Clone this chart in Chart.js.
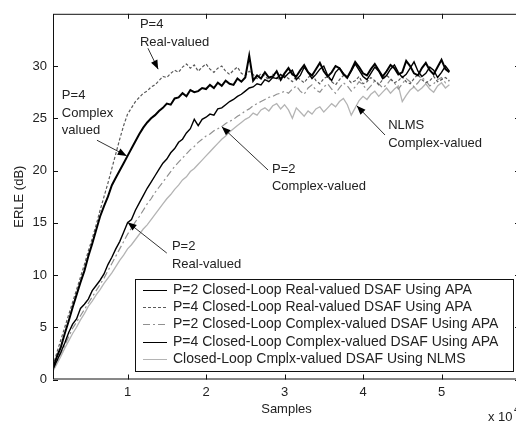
<!DOCTYPE html>
<html>
<head>
<meta charset="utf-8">
<script src="https://cdn.jsdelivr.net/npm/chart.js@4.4.0/dist/chart.umd.min.js"></script>
<style>
  html, body { margin: 0; padding: 0; background: #fff; overflow: hidden; }
  #wrap { width: 524px; height: 421px; }
</style>
</head>
<body>
<div id="wrap"><canvas id="erleChart"></canvas></div>
<script>
// x axis is in units of 10^4 samples, one point every 500 samples
const samples = [];
for (let i = 1; i <= 102; i++) samples.push(i * 5 / 100);

const xTicks = [1, 2, 3, 4, 5];
const yTicks = [0, 5, 10, 15, 20, 25, 30];

const seriesNames = [
  'P=2 Closed-Loop Real-valued DSAF Using APA',
  'P=4 Closed-Loop Real-valued DSAF Using APA',
  'P=2 Closed-Loop Complex-valued DSAF Using APA',
  'P=4 Closed-Loop Complex-valued DSAF Using APA',
  'Closed-Loop Cmplx-valued DSAF Using NLMS'
];

// ERLE in dB
const p2Real = [
  1.0, 1.8, 2.6, 3.5, 4.5, 5.3, 5.8, 6.8, 7.2, 7.7,
  8.5, 9.0, 9.5, 10.1, 11.0, 11.7, 12.5, 13.2, 14.1, 15.0,
  15.3, 16.2, 16.9, 17.6, 18.3, 18.9, 19.5, 20.1, 20.7, 21.1,
  21.7, 22.1, 22.7, 23.0, 23.6, 24.0, 24.9, 24.3, 24.9, 25.1,
  25.4, 25.3, 25.9, 26.0, 26.3, 26.6, 26.8, 27.1, 27.3, 27.6,
  27.9, 28.0, 28.3, 28.2, 28.7, 28.5, 28.9, 28.8, 29.2, 28.9,
  29.3, 29.6, 28.7, 29.1, 29.9, 29.4, 28.8, 29.2, 29.7, 30.0,
  29.1, 28.6, 29.4, 29.8, 29.3, 28.9, 29.5, 30.2, 29.6, 29.0,
  28.7, 29.3, 29.9, 29.5, 28.8, 29.1, 29.7, 30.1, 29.4, 28.9,
  29.2, 29.8, 30.4, 29.5, 29.0, 29.3, 29.9, 29.6, 28.9, 29.4,
  30.0, 29.5
];
const p4Real = [
  1.3, 2.6, 3.8, 5.0, 6.2, 7.4, 8.6, 9.8, 11.0, 12.3,
  13.5, 14.8, 16.2, 17.5, 18.8, 20.2, 21.6, 23.0, 24.3, 25.4,
  26.0, 26.6, 27.0, 27.4, 27.6, 28.0, 28.2, 28.6, 29.0, 28.9,
  29.3, 29.6, 29.4, 29.9, 30.2, 29.8, 30.1, 29.5, 29.9, 30.2,
  29.7, 29.4, 29.8, 30.0, 29.5, 29.2, 29.6, 29.9, 29.3, 29.1,
  29.5, 29.2, 28.8, 29.3, 29.0, 28.7, 29.2, 28.9, 28.6, 29.1,
  28.8, 28.5, 29.0, 28.7, 28.4, 28.9, 29.2, 28.6, 28.3, 28.8,
  29.0, 28.5, 28.2, 28.7, 29.1, 28.8, 28.4, 28.6, 29.0, 28.3,
  28.5, 28.9, 28.6, 28.2, 28.7, 29.1, 28.8, 28.4, 28.6, 29.0,
  28.5, 28.3, 28.8, 29.2, 28.7, 28.4, 28.6, 29.0, 28.5, 28.7,
  28.9, 28.6
];
const p2Cplx = [
  0.9, 1.7, 2.5, 3.3, 4.1, 4.9, 5.5, 6.1, 6.7, 7.3,
  7.9, 8.5, 9.1, 9.7, 10.4, 11.1, 11.8, 12.5, 13.2, 13.9,
  14.5, 15.1, 15.6, 16.2, 16.8, 17.3, 17.9, 18.4, 18.9, 19.4,
  19.9, 20.4, 20.8, 21.2, 21.6, 22.0, 22.3, 22.7, 23.0, 23.3,
  23.5, 23.8, 24.0, 24.2, 24.5, 24.7, 24.9, 25.2, 25.4, 25.7,
  25.9, 26.2, 26.4, 26.6, 26.8, 27.0, 27.1, 27.3, 27.4, 27.6,
  27.4, 27.8, 28.1, 27.6, 27.3, 27.9, 28.2, 27.7, 27.5, 28.0,
  28.3, 27.8, 27.4, 27.9, 28.4, 28.1, 27.6, 28.0, 28.5, 28.2,
  27.7, 28.1, 28.6, 28.3, 27.9, 28.2, 28.7, 28.4, 27.8, 28.3,
  28.8, 28.5, 28.0, 28.4, 28.9, 28.6, 28.1, 28.3, 28.7, 28.9,
  28.4, 28.6
];
const p4Cplx = [
  1.1, 2.2, 3.1, 4.4, 5.6, 6.9, 8.1, 9.3, 10.4, 11.8,
  13.0, 14.3, 15.6, 16.6, 17.5, 18.6, 19.3, 20.0, 20.7, 21.4,
  22.1, 22.8, 23.5, 24.1, 24.6, 25.0, 25.3, 25.7, 26.0, 26.4,
  26.3, 26.9, 27.0, 27.4, 27.1, 27.7, 27.5, 27.6, 27.9, 27.8,
  28.2, 27.9, 28.4, 28.1, 28.6, 28.3, 28.2, 28.8, 28.5, 28.9,
  31.0, 28.6, 29.1, 28.8, 29.4, 28.9, 29.0, 29.5, 28.7, 29.3,
  29.8, 29.2, 29.0, 29.6, 30.1, 29.4, 29.1, 29.7, 30.3, 29.5,
  29.0, 29.4, 30.0, 29.8, 29.2, 28.9, 29.6, 30.4, 29.9, 29.3,
  29.1, 29.7, 30.2, 29.6, 29.0, 29.5, 30.1, 29.8, 29.2, 29.4,
  30.5, 30.0, 29.3, 29.1, 29.8, 30.3, 29.6, 29.2, 29.9, 30.6,
  29.7, 29.4
];
const nlmsCplx = [
  0.8, 1.5, 2.2, 3.0, 3.7, 4.4, 5.0, 5.7, 6.3, 7.0,
  7.5, 8.1, 8.6, 9.2, 9.7, 10.2, 10.8, 11.4, 11.9, 12.5,
  12.9, 13.4, 13.9, 14.4, 14.8, 15.3, 15.8, 16.3, 16.8, 17.3,
  17.7, 18.2, 18.6, 19.1, 19.4, 19.9, 20.2, 20.6, 21.0, 21.4,
  21.8, 22.2, 22.6, 23.0, 23.3, 23.7, 24.0, 24.3, 24.6, 24.9,
  25.1, 25.5, 25.3, 25.8, 26.0, 25.7, 26.2, 26.4, 25.9, 26.3,
  25.8, 25.0, 26.0, 25.6, 25.2, 25.7, 25.4, 25.9, 26.1, 25.6,
  26.0, 26.4, 26.1, 26.6, 26.9, 26.3, 25.3, 26.0, 26.7, 27.1,
  26.8, 27.3, 27.6, 27.1, 27.5, 27.9, 27.4, 27.8, 28.1, 26.6,
  27.2, 27.7, 28.0, 27.6, 27.9, 28.3, 27.8, 27.5, 28.1, 28.4,
  27.9, 28.2
];

// text labels with arrows, positions in data units
const notes = [
  { lines: ['P=4', 'Real-valued'], at: [1.157, 33.95], from: [1.26, 31.7], to: [1.39, 29.7] },
  { lines: ['P=4', 'Complex', 'valued'], at: [0.163, 27.15], from: [0.61, 22.9], to: [0.99, 21.4] },
  { lines: ['P=2', 'Real-valued'], at: [1.565, 12.7], from: [1.50, 12.1], to: [1.0, 15.06] },
  { lines: ['P=2', 'Complex-valued'], at: [2.84, 20.15], from: [2.79, 20.05], to: [2.2, 24.2] },
  { lines: ['NLMS', 'Complex-valued'], at: [4.32, 24.3], from: [4.28, 23.4], to: [3.92, 26.2] }
];

const FONT = '13px "Liberation Sans", Arial, sans-serif';
const LEGEND_FONT = '14px "Liberation Sans", Arial, sans-serif';
const TXT = '#222';

function pts(vals) {
  return vals.map((v, i) => ({ x: samples[i], y: v }));
}

const matlabBox = {
  id: 'matlabBox',
  afterDatasetsDraw(chart) {
    const { ctx, chartArea: a, scales: { x, y } } = chart;
    ctx.save();

    // axes box and inward ticks
    ctx.strokeStyle = '#111';
    ctx.lineWidth = 1;
    ctx.strokeRect(a.left + 0.5, a.top + 0.5, a.right - a.left, a.bottom - a.top - 1);
    ctx.beginPath();
    xTicks.forEach(v => {
      const px = Math.round(x.getPixelForValue(v)) + 0.5;
      ctx.moveTo(px, a.bottom); ctx.lineTo(px, a.bottom - 5);
      ctx.moveTo(px, a.top); ctx.lineTo(px, a.top + 5);
    });
    yTicks.forEach(v => {
      const py = Math.round(y.getPixelForValue(v)) + 0.5;
      ctx.moveTo(a.left, py); ctx.lineTo(a.left + 5, py);
      ctx.moveTo(a.right, py); ctx.lineTo(a.right - 5, py);
    });
    ctx.stroke();

    // legend box
    const lx = a.left + 82, ly = 279, lw = 378, lh = 92;
    ctx.fillStyle = '#fff';
    ctx.fillRect(lx, ly, lw, lh);
    ctx.strokeStyle = '#111';
    ctx.strokeRect(lx + 0.5, ly + 0.5, lw, lh);
    ctx.font = LEGEND_FONT;
    ctx.textBaseline = 'middle';
    ctx.textAlign = 'left';
    chart.data.datasets.forEach((ds, i) => {
      const ry = Math.round(ly + 11 + i * 17.2) + 0.5;
      ctx.beginPath();
      ctx.strokeStyle = ds.borderColor;
      ctx.lineWidth = 1;
      ctx.setLineDash(ds.borderDash || []);
      ctx.moveTo(lx + 8, ry); ctx.lineTo(lx + 32, ry);
      ctx.stroke();
      ctx.setLineDash([]);
      ctx.fillStyle = TXT;
      ctx.fillText(ds.label, lx + 38, ry);
    });

    // annotations
    ctx.font = FONT;
    notes.forEach(n => {
      const tx = x.getPixelForValue(n.at[0]);
      const ty = y.getPixelForValue(n.at[1]);
      ctx.fillStyle = TXT;
      n.lines.forEach((t, k) => ctx.fillText(t, tx, ty + k * 17.5));
      const x0 = x.getPixelForValue(n.from[0]), y0 = y.getPixelForValue(n.from[1]);
      const x1 = x.getPixelForValue(n.to[0]), y1 = y.getPixelForValue(n.to[1]);
      const ang = Math.atan2(y1 - y0, x1 - x0);
      ctx.strokeStyle = '#333';
      ctx.beginPath();
      ctx.moveTo(x0, y0); ctx.lineTo(x1, y1);
      ctx.stroke();
      ctx.fillStyle = '#000';
      ctx.beginPath();
      ctx.moveTo(x1, y1);
      ctx.lineTo(x1 - 9 * Math.cos(ang) + 3.5 * Math.sin(ang), y1 - 9 * Math.sin(ang) - 3.5 * Math.cos(ang));
      ctx.lineTo(x1 - 9 * Math.cos(ang) - 3.5 * Math.sin(ang), y1 - 9 * Math.sin(ang) + 3.5 * Math.cos(ang));
      ctx.closePath();
      ctx.fill();
    });

    // exponent of the x axis
    ctx.fillStyle = TXT;
    ctx.fillText('x 10', 488, 417);
    ctx.font = '10px "Liberation Sans", Arial, sans-serif';
    ctx.fillText('4', 514, 410);
    ctx.restore();
  }
};

Chart.defaults.font.family = '"Liberation Sans", Arial, sans-serif';
Chart.defaults.font.size = 13;
Chart.defaults.color = TXT;

new Chart(document.getElementById('erleChart'), {
  type: 'line',
  data: {
    datasets: [
      { label: seriesNames[0], data: pts(p2Real), borderColor: '#000', borderWidth: 1.4, order: 2 },
      { label: seriesNames[1], data: pts(p4Real), borderColor: '#5a5a5a', borderWidth: 1.2, borderDash: [3, 2], order: 3 },
      { label: seriesNames[2], data: pts(p2Cplx), borderColor: '#909090', borderWidth: 1.2, borderDash: [7, 3, 2, 3], order: 4 },
      { label: seriesNames[3], data: pts(p4Cplx), borderColor: '#000', borderWidth: 2, order: 1 },
      { label: seriesNames[4], data: pts(nlmsCplx), borderColor: '#b4b4b4', borderWidth: 1.3, order: 5 }
    ]
  },
  options: {
    responsive: true,
    maintainAspectRatio: false,
    animation: false,
    devicePixelRatio: 1,
    layout: { padding: { top: 9, right: 4, left: 0, bottom: 0 } },
    elements: { point: { radius: 0 }, line: { tension: 0 } },
    plugins: { legend: { display: false }, tooltip: { enabled: false } },
    scales: {
      x: {
        type: 'linear', min: 0.05, max: 6,
        afterBuildTicks: s => { s.ticks = xTicks.map(v => ({ value: v })); },
        afterFit: s => { s.height = 41.5; },
        grid: { display: false, drawTicks: false },
        border: { display: false },
        ticks: { padding: 5, maxRotation: 0, callback: v => String(v) },
        title: { display: true, text: 'Samples', padding: { top: 0, bottom: 4 } }
      },
      y: {
        min: 0, max: 35,
        afterBuildTicks: s => { s.ticks = yTicks.map(v => ({ value: v })); },
        afterFit: s => { s.width = 53; },
        grid: { display: false, drawTicks: false },
        border: { display: false },
        ticks: { padding: 6, callback: v => String(v) },
        title: { display: true, text: 'ERLE (dB)', padding: { top: 12, bottom: 0 } }
      }
    }
  },
  plugins: [matlabBox]
});
</script>
</body>
</html>
